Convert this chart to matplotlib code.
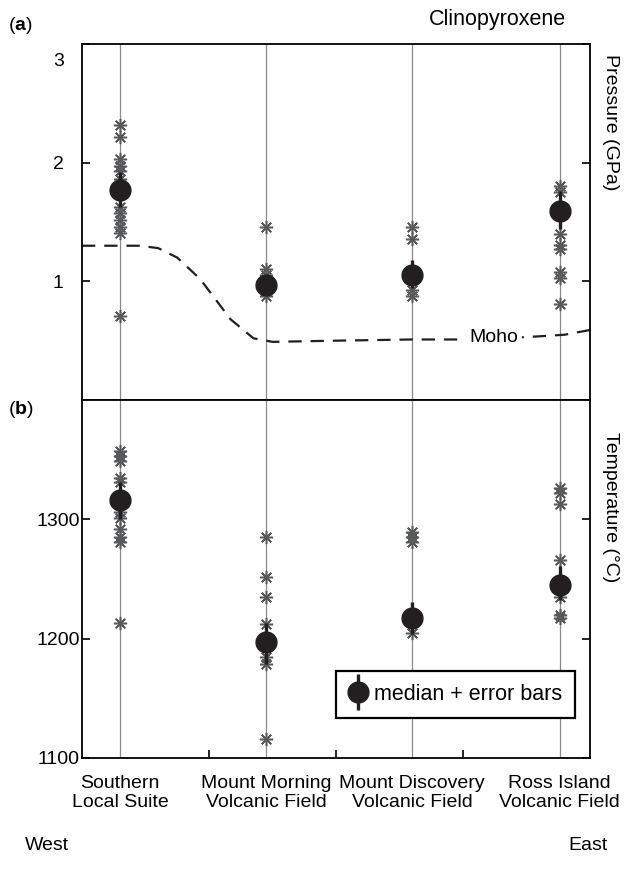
import numpy as np
import matplotlib.pyplot as plt
import matplotlib.transforms as mtrans
from matplotlib import font_manager
from matplotlib.lines import Line2D

names = set(f.name for f in font_manager.fontManager.ttflist)
if "Liberation Sans Narrow" in names:
    fam = "Liberation Sans Narrow"
    fs = 15.5
else:
    fam = "Liberation Sans"
    fs = 14
plt.rcParams['font.family'] = [fam, 'DejaVu Sans']
plt.rcParams['mathtext.fontset'] = 'custom'
plt.rcParams['mathtext.rm'] = fam
plt.rcParams['mathtext.bf'] = fam + ':bold'

# column positions (west -> east) and names
col_x = [0.3, 1.45, 2.6, 3.76]
col_names = ["Southern\nLocal Suite", "Mount Morning\nVolcanic Field",
             "Mount Discovery\nVolcanic Field", "Ross Island\nVolcanic Field"]

# pressure (GPa) of each analysis
p_sls = [2.32, 2.22, 2.03, 1.97, 1.93, 1.86, 1.63, 1.58, 1.52, 1.46, 1.41, 0.71]
p_mmvf = [1.46, 1.10, 1.05, 0.92, 0.88]
p_mdvf = [1.46, 1.36, 0.93, 0.88]
p_rivf = [1.80, 1.75, 1.40, 1.31, 1.27, 1.08, 1.03, 0.81]
p_med = [1.77, 0.97, 1.05, 1.59]
p_lo = [1.63, 0.90, 0.94, 1.44]
p_hi = [1.92, 1.04, 1.18, 1.76]

# temperature (C) of each analysis
t_sls = [1357, 1353, 1349, 1335, 1331, 1306, 1301, 1292, 1285, 1281, 1213]
t_mmvf = [1285, 1252, 1235, 1212, 1185, 1179, 1116]
t_mdvf = [1289, 1285, 1281, 1205]
t_rivf = [1326, 1322, 1313, 1266, 1235, 1220, 1217]
t_med = [1316, 1197, 1217, 1245]
t_lo = [1300, 1179, 1204, 1232]
t_hi = [1331, 1213, 1231, 1261]

# Moho depth trace (GPa)
moho_x = [0, 0.45, 0.6, 0.75, 0.93, 1.17, 1.35, 1.5, 2.0, 2.6, 3.0, 3.5, 3.8, 4.0]
moho_p = [1.30, 1.30, 1.28, 1.20, 1.02, 0.68, 0.52, 0.49, 0.50, 0.51, 0.51, 0.53, 0.55, 0.59]

star_c = '#58595b'
dot_c = '#231f20'

fig = plt.figure(figsize=(6.32, 8.83), dpi=100)
L, R = 82/632, 590/632
ax1 = fig.add_axes([L, 1-400/883, R-L, (400-44)/883])
ax2 = fig.add_axes([L, 1-758/883, R-L, (758-400)/883])

for ax in (ax1, ax2):
    ax.set_xlim(0, 4)
    for x in col_x:
        ax.axvline(x, color='#8a8a8a', lw=0.9, zorder=0)
    for s in ax.spines.values():
        s.set_linewidth(1.3)
    ax.tick_params(axis='y', direction='in', length=6, width=1.2, right=True,
                   labelsize=fs, pad=17)

def draw(ax, groups, med, lo, hi):
    for x, vals in zip(col_x, groups):
        ax.plot([x]*len(vals), vals, ls='none', marker=(8, 2, 0), ms=9.5,
                mew=1.1, color=star_c, zorder=2)
    med = np.array(med)
    err = [med - np.array(lo), np.array(hi) - med]
    ax.errorbar(col_x, med, yerr=err, fmt='o', ms=15, color=dot_c,
                ecolor=dot_c, elinewidth=2.4, capsize=0, zorder=3)

draw(ax1, [p_sls, p_mmvf, p_mdvf, p_rivf], p_med, p_lo, p_hi)
draw(ax2, [t_sls, t_mmvf, t_mdvf, t_rivf], t_med, t_lo, t_hi)

# top panel
ax1.set_ylim(0, 3)
ax1.set_yticks([1, 2, 3])
ax1.set_yticklabels(['1', '2', '3'])
for lab in ax1.get_yticklabels():
    lab.set_horizontalalignment('center')
lab3 = ax1.get_yticklabels()[2]
lab3.set_transform(lab3.get_transform() + mtrans.ScaledTranslation(0, -0.16, fig.dpi_scale_trans))
ax1.tick_params(axis='x', bottom=False, labelbottom=False)
ml, = ax1.plot(moho_x, moho_p, color='#231f20', lw=1.6, zorder=1)
ml.set_dashes((6, 4))
ax1.text(3.24, 0.53, 'Moho', fontsize=fs, ha='center', va='center',
         bbox=dict(facecolor='white', edgecolor='none', pad=3), zorder=1.5)

# bottom panel
ax2.set_ylim(1100, 1400)
ax2.set_yticks([1100, 1200, 1300])
ax2.set_yticklabels(['1100', '1200', '1300'])
for lab in ax2.get_yticklabels():
    lab.set_horizontalalignment('center')
ax2.set_xticks([1, 2, 3])
ax2.set_xticklabels([])
ax2.tick_params(axis='x', which='major', direction='in', length=6, width=1.2)
ax2.set_xticks(col_x, minor=True)
ax2.set_xticklabels(col_names, minor=True, fontsize=fs, linespacing=1.2)
ax2.tick_params(axis='x', which='minor', length=0, pad=12)

# legend: dot with a vertical bar through it
bar_h = Line2D([], [], ls='none', marker='|', ms=26, mew=2.4, color=dot_c)
dot_h = Line2D([], [], ls='none', marker='o', ms=15, color=dot_c)
leg = ax2.legend([(bar_h, dot_h)], ['median + error bars'], loc='lower right',
                 bbox_to_anchor=(0.97, 0.112), borderaxespad=0, fontsize=fs+1.5,
                 fancybox=False, framealpha=1, edgecolor='black',
                 handlelength=0.8, handletextpad=0.35, borderpad=0.6)
leg.get_frame().set_linewidth(1.6)

fig.text(610/632, 1-122/883, 'Pressure (GPa)', rotation=-90, fontsize=fs,
         ha='center', va='center')
fig.text(610/632, 1-507/883, 'Temperature (°C)', rotation=-90, fontsize=fs,
         ha='center', va='center')
fig.text(566/632, 1-20/883, 'Clinopyroxene', fontsize=fs+1.5, ha='right', va='center')
fig.text(8/632, 1-25/883, r'($\mathbf{a}$)', fontsize=fs, ha='left', va='center')
fig.text(8/632, 1-410/883, r'($\mathbf{b}$)', fontsize=fs, ha='left', va='center')
fig.text(25/632, 1-845/883, 'West', fontsize=fs, ha='left', va='center')
fig.text(608/632, 1-845/883, 'East', fontsize=fs, ha='right', va='center')

fig.savefig('out.png', dpi=100)
